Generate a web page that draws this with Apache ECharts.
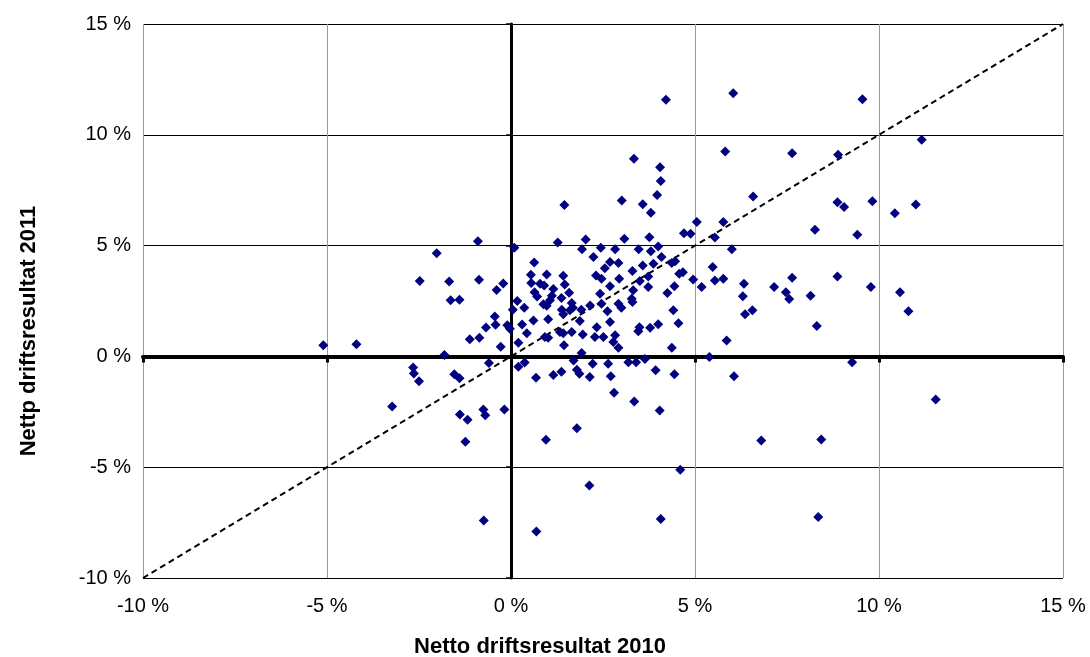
<!DOCTYPE html>
<html>
<head>
<meta charset="utf-8">
<script src="https://cdn.jsdelivr.net/npm/echarts@6/dist/echarts.min.js"></script>
<style>
html,body{margin:0;padding:0;background:#fff;}
#chart{width:1090px;height:657px;}
</style>
</head>
<body>
<div id="chart"></div>
<script>
// Netto driftsresultat 2010 (x, %) vs 2011 (y, %)
const points = [
[-5.1,0.5],[-4.2,0.55],[-2.66,-0.5],[-2.64,-0.77],[-2.5,-1.12],[-3.23,-2.26],[-2.48,3.4],
[-0.9,5.2],[0.09,4.9],[-2.02,4.66],[-1.68,3.38],[-0.87,3.46],[-0.21,3.29],[-0.39,3.0],
[-1.64,2.53],[-1.4,2.56],[0.17,2.5],[0.05,2.1],[-0.44,1.8],[-0.42,1.43],[-0.68,1.3],
[-0.1,1.41],[-0.03,1.25],[0.3,1.44],[-1.12,0.77],[-0.86,0.84],[0.2,0.62],[-0.28,0.44],
[-1.81,0.06],[-0.6,-0.3],[0.2,-0.47],[-1.54,-0.8],[-1.4,-0.99],[-1.39,-2.62],[-1.18,-2.86],
[-0.75,-2.4],[-0.7,-2.66],[-0.18,-2.4],[-1.24,-3.85],
[1.27,5.14],[2.03,5.28],[1.93,4.84],[0.63,4.24],[0.54,3.69],[0.97,3.7],[1.42,3.64],
[0.55,3.31],[0.79,3.28],[0.9,3.2],[1.46,3.25],[1.15,3.04],[0.64,2.9],[1.58,2.87],
[0.71,2.7],[1.11,2.74],[1.37,2.63],[1.06,2.53],[0.88,2.35],[0.97,2.29],[1.65,2.41],
[0.36,2.2],[1.38,2.1],[1.6,2.08],[1.68,2.2],[1.91,2.1],[2.15,2.3],[1.42,1.9],
[0.61,1.62],[1.01,1.68],[1.87,1.6],
[0.43,1.05],[0.92,0.87],[1.01,0.84],[1.33,1.1],[1.42,1.05],[1.65,1.1],[1.44,0.5],
[1.95,0.99],[1.92,0.15],[1.7,-0.18],[0.37,-0.27],[1.79,-0.6],[1.86,-0.78],[2.14,-0.93],
[0.68,-0.96],[1.15,-0.84],[1.37,-0.69],[1.79,-3.24],[0.95,-3.76],
[3.08,5.31],[3.76,5.38],[2.44,4.9],[2.83,4.83],[3.47,4.84],[3.8,4.74],[4.0,4.96],
[2.24,4.48],[2.69,4.26],[2.92,4.21],[2.55,3.98],[3.58,4.1],[3.87,4.18],[2.31,3.65],
[2.46,3.5],[3.3,3.85],[3.5,3.4],[3.73,3.61],[2.94,3.5],[3.73,3.13],[2.69,3.16],
[3.32,2.98],[2.42,2.83],[3.28,2.6],[3.3,2.45],[2.92,2.38],[3.0,2.2],[2.46,2.38],
[2.62,2.04],[2.69,1.55],[2.33,1.32],[3.49,1.32],[3.78,1.29],[4.0,1.45],
[2.28,0.87],[2.51,0.87],[2.83,0.95],[2.78,0.65],[2.92,0.39],[3.46,1.14],[2.22,-0.33],
[2.64,-0.33],[3.19,-0.26],[3.4,-0.26],[3.64,-0.12],[3.93,-0.63],[2.71,-0.9],[2.8,-1.64],
[3.35,-2.03],[4.04,-2.44],
[5.05,6.06],[5.77,6.06],[4.7,5.56],[4.88,5.54],[5.54,5.36],[6.0,4.83],[4.09,4.48],
[4.37,4.21],[4.46,4.29],[4.57,3.73],[4.67,3.8],[5.48,4.03],[4.95,3.47],[5.54,3.43],
[5.77,3.5],[6.33,3.28],[4.44,3.16],[5.18,3.13],[4.25,2.86],[6.3,2.71],[6.56,2.08],
[6.36,1.9],[4.41,2.08],[4.55,1.5],[5.86,0.72],[4.37,0.39],[5.39,-0.03],[4.44,-0.81],
[6.06,-0.9],[6.8,-3.79],
[9.55,11.6],[7.64,9.17],[8.89,9.1],[8.87,6.96],[9.05,6.74],[9.82,7.0],[10.43,6.46],
[8.26,5.71],[9.41,5.49],[7.15,3.13],[7.64,3.55],[7.47,2.9],[7.56,2.59],[8.14,2.74],
[8.87,3.61],[9.78,3.13],[10.57,2.9],[8.31,1.37],[9.27,-0.26],[8.43,-3.75],
[11.16,9.78],[11.0,6.85],[10.8,2.04],[11.54,-1.94],
[4.21,11.58],[6.04,11.88],[5.82,9.25],[3.34,8.92],[4.05,8.54],[4.07,7.91],[3.97,7.28],
[6.58,7.22],[1.45,6.83],[3.01,7.03],[3.58,6.87],[3.8,6.48],
[-0.74,-7.4],[0.69,-7.9],[2.13,-5.83],[4.6,-5.11],[4.07,-7.34],[8.35,-7.25]
];
// y = x reference line endpoints
const diagonal = [[-10,-10],[15,15]];
const axisMin = -10, axisMax = 15, axisStep = 5;
const xTitle = 'Netto driftsresultat 2010';
const yTitle = 'Nettp driftsresultat 2011';

const FONT = '"Liberation Sans", Arial, sans-serif';
const chart = echarts.init(document.getElementById('chart'), null, {renderer:'canvas'});
const pct = v => v + ' %';
const baseAxis = {
  type:'value', min:axisMin, max:axisMax, interval:axisStep
};
chart.setOption({
  animation:false,
  backgroundColor:'#ffffff',
  grid:{left:143, top:24, width:920, height:554, containLabel:false},
  xAxis:[
    Object.assign({}, baseAxis, {
      position:'bottom',
      axisLine:{show:false, onZero:false},
      axisTick:{show:false},
      axisLabel:{formatter:pct, color:'#000', fontFamily:FONT, fontSize:20, margin:18},
      splitLine:{show:true, lineStyle:{color:'#999999', width:1}}
    }),
    Object.assign({}, baseAxis, {
      position:'bottom',
      axisLine:{show:true, onZero:true, onZeroAxisIndex:0, lineStyle:{color:'#000', width:4}},
      axisTick:{show:true, inside:false, length:6, lineStyle:{color:'#000', width:3}},
      axisLabel:{show:false},
      splitLine:{show:false}
    })
  ],
  yAxis:[
    Object.assign({}, baseAxis, {
      position:'left',
      axisLine:{show:false, onZero:false},
      axisTick:{show:false},
      axisLabel:{formatter:pct, color:'#000', fontFamily:FONT, fontSize:20, margin:12},
      splitLine:{show:true, lineStyle:{color:'#000000', width:1}}
    }),
    Object.assign({}, baseAxis, {
      position:'left',
      axisLine:{show:true, onZero:true, onZeroAxisIndex:0, lineStyle:{color:'#000', width:3}},
      axisTick:{show:true, inside:false, length:5, lineStyle:{color:'#000', width:1.5}},
      axisLabel:{show:false},
      splitLine:{show:false}
    })
  ],
  series:[
    {
      type:'line', xAxisIndex:0, yAxisIndex:0, data:diagonal, symbol:'none',
      lineStyle:{color:'#000', width:2, type:[6,4]}, silent:true, z:3
    },
    {
      type:'scatter', xAxisIndex:0, yAxisIndex:0, data:points,
      symbol:'diamond', symbolSize:10,
      itemStyle:{color:'#000080', opacity:1}, z:4
    }
  ],
  graphic:[
    {type:'text', x:540, y:647,
     style:{text:xTitle, textAlign:'center', textVerticalAlign:'middle',
            font:'bold 22px ' + FONT, fill:'#000'}},
    {type:'text', x:29, y:331, rotation:Math.PI/2,
     style:{text:yTitle, textAlign:'center', textVerticalAlign:'middle',
            font:'bold 22px ' + FONT, fill:'#000'}}
  ]
});
</script>
</body>
</html>
